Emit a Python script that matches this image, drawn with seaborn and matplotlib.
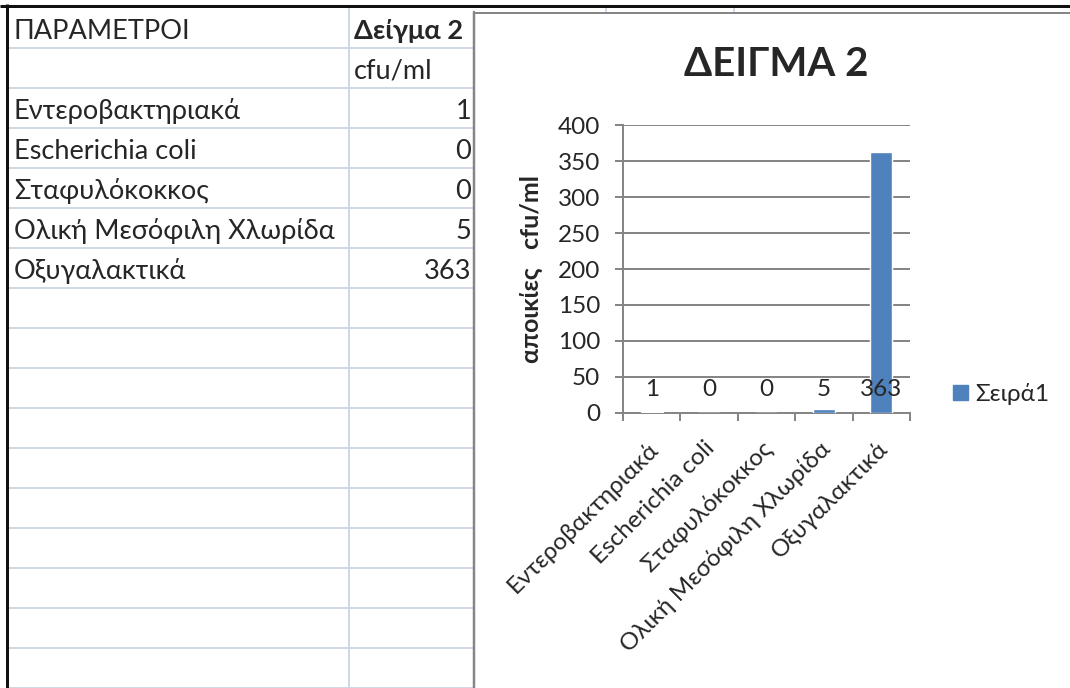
import matplotlib
matplotlib.use("Agg")
import matplotlib.pyplot as plt
import matplotlib.transforms as mtransforms
from matplotlib.patches import Patch, Rectangle
import seaborn as sns

# Sample 2 measurements (cfu/ml)
parameters = ["Εντεροβακτηριακά", "Escherichia coli", "Σταφυλόκοκκος",
              "Ολική Μεσόφιλη Χλωρίδα", "Οξυγαλακτικά"]
counts = [1, 0, 0, 5, 363]
y_ticks = [0, 50, 100, 150, 200, 250, 300, 350, 400]
table_header = ["ΠΑΡΑΜΕΤΡΟΙ", "Δείγμα 2"]
unit_label = "cfu/ml"
chart_title = "ΔΕΙΓΜΑ 2"
y_label = "αποικίες   cfu/ml"
series_name = "Σειρά1"

sns.set_theme(style="white")
plt.rcParams["font.family"] = ["Lato", "DejaVu Sans"]

W, H = 1070, 688
fig = plt.figure(figsize=(W / 100, H / 100), dpi=100)
fig.patch.set_facecolor("white")

BAR = "#4F81BD"
AXGRAY = "#868686"
CELL = "#D0D7E5"
FS_TABLE = 19.5
FS_CHART = 17.5
FS_CAT = 17.5
px = 0.72  # points per pixel at 100 dpi

# ---- sheet layer (pixel coordinates, origin top-left) ----
bg = fig.add_axes([0, 0, 1, 1], zorder=0)
bg.set_xlim(0, W)
bg.set_ylim(H, 0)
bg.axis("off")

col_split, col_right = 349, 473
row_h, top = 40, 8
for k in range(1, 18):
    y = top + k * row_h
    if y > H:
        break
    bg.plot([8, col_right], [y, y], color=CELL, lw=2 * px, solid_capstyle="butt")
bg.plot([col_split, col_split], [top, H], color=CELL, lw=2 * px)
# faint column lines peeking above the chart box
for x in (606, 734):
    bg.plot([x, x], [6, 13], color=CELL, lw=2 * px)

# heavy sheet borders
bg.plot([0, W], [5.5, 5.5], color="#111111", lw=3 * px, solid_capstyle="butt")
bg.plot([6.5, 6.5], [4, H], color="#111111", lw=3 * px, solid_capstyle="butt")

# chart box
bg.add_patch(Rectangle((474, 13), W - 474, H - 13, facecolor="white",
                       edgecolor="none", zorder=1))
bg.plot([474, 474], [12, H], color=AXGRAY, lw=2.5 * px, zorder=2)
bg.plot([474, W], [13, 13], color=AXGRAY, lw=2 * px, zorder=2)

# table text
def row_base(i):
    return top + (i + 1) * row_h - 9

bg.text(14, row_base(0), table_header[0], fontsize=FS_TABLE, va="baseline", ha="left")
bg.text(354, row_base(0), table_header[1], fontsize=FS_TABLE, va="baseline",
        ha="left", fontweight="bold")
bg.text(354, row_base(1), unit_label, fontsize=FS_TABLE, va="baseline", ha="left")
for i, (name, val) in enumerate(zip(parameters, counts)):
    bg.text(14, row_base(i + 2), name, fontsize=FS_TABLE, va="baseline", ha="left")
    bg.text(471, row_base(i + 2), str(val), fontsize=FS_TABLE, va="baseline",
            ha="right")

# chart title, axis title
bg.text(776, 64, chart_title, fontsize=29, fontweight="bold", ha="center",
        va="center", zorder=3)
bg.text(531, 269, y_label, fontsize=18, fontweight="bold", rotation=90,
        ha="center", va="center", zorder=3)

# ---- bar chart ----
x0, x1, yb, yt = 623, 910, 413, 125
ax = fig.add_axes([x0 / W, 1 - yb / H, (x1 - x0) / W, (yb - yt) / H], zorder=2)
ax.patch.set_alpha(0)
sns.barplot(x=parameters, y=counts, color=BAR, width=0.38, saturation=1,
            ax=ax, zorder=3)

ax.set_ylim(0, 400)
ax.set_xlim(-0.5, len(parameters) - 0.5)
ax.set_yticks(y_ticks)
ax.set_yticklabels([str(t) for t in y_ticks], fontsize=FS_CHART)
ax.yaxis.grid(True, color=AXGRAY, lw=2 * px, zorder=0)
ax.set_axisbelow(True)
for s in ("top", "right"):
    ax.spines[s].set_visible(False)
for s in ("left", "bottom"):
    ax.spines[s].set_color(AXGRAY)
    ax.spines[s].set_linewidth(2 * px)
ax.tick_params(axis="y", length=8 * px, width=2 * px, color=AXGRAY,
               direction="out", pad=15 * px, left=True)
ax.set_xlabel("")
ax.set_ylabel("")

# category separators as tick marks
ax.set_xticks([i - 0.5 for i in range(len(parameters) + 1)], minor=True)
ax.tick_params(axis="x", which="minor", length=8 * px, width=2 * px,
               color=AXGRAY, direction="out", bottom=True)
ax.set_xticks(range(len(parameters)))
ax.set_xticklabels(parameters, fontsize=FS_CAT, rotation=45, ha="right",
                   rotation_mode="anchor")
ax.tick_params(axis="x", which="major", length=0, pad=17.5)
shift = mtransforms.ScaledTranslation(-5 / 100, 0, fig.dpi_scale_trans)
for lab in ax.get_xticklabels():
    lab.set_transform(lab.get_transform() + shift)

# value labels near the base of each bar
for i, v in enumerate(counts):
    ax.annotate(str(v), xy=(i, 0), xytext=(0, 23), textcoords="offset pixels",
                ha="center", va="center", fontsize=FS_CHART, zorder=5)

# legend
ax.legend(handles=[Patch(color=BAR, label=series_name)], loc="center left",
          bbox_to_anchor=(953 / W, 1 - 394 / H), bbox_transform=fig.transFigure,
          frameon=False, fontsize=FS_CHART, handlelength=0.62, handleheight=0.56,
          handletextpad=0.3, borderpad=0, borderaxespad=0)

fig.savefig("out.png", dpi=100, facecolor="white")
